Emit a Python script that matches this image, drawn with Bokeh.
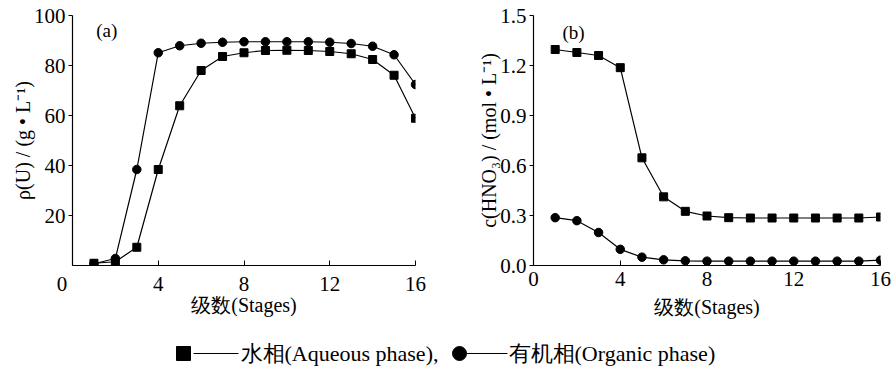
from bokeh.plotting import figure
from bokeh.layouts import column, row
from bokeh.models import FixedTicker, Label, Range1d
from bokeh.embed import file_html
from bokeh.resources import INLINE

# ---- data ----
stages = list(range(1, 17))
u_aqueous = [0.9, 1.5, 7.3, 38.4, 63.9, 78.0, 83.6, 85.1, 86.0, 86.1, 86.0, 85.6, 84.7, 82.4, 76.1, 58.9]
u_organic = [0.7, 2.8, 38.4, 85.1, 87.9, 88.9, 89.3, 89.5, 89.5, 89.5, 89.5, 89.3, 88.8, 87.7, 84.3, 72.4]
hno3_aqueous = [1.296, 1.278, 1.260, 1.187, 0.646, 0.412, 0.325, 0.297, 0.287, 0.285, 0.285, 0.285, 0.285, 0.285, 0.285, 0.291]
hno3_organic = [0.287, 0.269, 0.198, 0.097, 0.050, 0.034, 0.028, 0.026, 0.026, 0.026, 0.026, 0.026, 0.026, 0.026, 0.026, 0.032]
x_ticks = [0, 4, 8, 12, 16]
u_ticks = [20, 40, 60, 80, 100]
hno3_ticks = [0.0, 0.3, 0.6, 0.9, 1.2, 1.5]
hno3_tick_labels = {0.0: "0.0", 0.3: "0.3", 0.6: "0.6", 0.9: "0.9", 1.2: "1.2", 1.5: "1.5"}
# panel (a): the shared origin "0" sits left of the corner
stage_tick_labels_a = {0: "0\u00a0\u00a0\u00a0\u00a0"}
legend_labels = ["水相(Aqueous phase),", "有机相(Organic phase)"]

SERIF = "Liberation Serif"
TICK_SIZE = "21px"
LABEL_SIZE = "20px"


def make_panel(border_left, frame_w, border_right, ymax, yticks, ylabel, tag, tag_xy, aq, org,
               xlabel_standoff, yoverrides=None, xoverrides=None):
    p = figure(frame_width=frame_w, frame_height=250, x_range=Range1d(0, 16), y_range=Range1d(0, ymax),
               output_backend="svg", toolbar_location=None,
               min_border_left=border_left, min_border_right=border_right,
               min_border_top=15, min_border_bottom=60)
    p.outline_line_color = None
    p.grid.visible = False

    p.xaxis.ticker = FixedTicker(ticks=x_ticks)
    p.yaxis.ticker = FixedTicker(ticks=yticks)
    if yoverrides:
        p.yaxis.major_label_overrides = yoverrides
    if xoverrides:
        p.xaxis.major_label_overrides = xoverrides
    for ax in (p.xaxis[0], p.yaxis[0]):
        ax.axis_line_color = "black"
        ax.axis_line_width = 1.2
        ax.major_tick_line_color = "black"
        ax.minor_tick_line_color = None
        ax.major_label_text_font = SERIF
        ax.major_label_text_font_size = TICK_SIZE
        ax.major_label_text_color = "black"
        ax.axis_label_text_font = SERIF
        ax.axis_label_text_font_size = LABEL_SIZE
        ax.axis_label_text_font_style = "normal"
        ax.axis_label_text_color = "black"
    p.xaxis.major_tick_in = 5
    p.xaxis.major_tick_out = 0
    p.xaxis.major_label_standoff = 6
    p.yaxis.major_tick_in = 0
    p.yaxis.major_tick_out = 4
    p.yaxis.major_label_standoff = 3
    p.xaxis.axis_label = "级数(Stages)"
    p.xaxis.axis_label_standoff = xlabel_standoff
    p.yaxis.axis_label = ylabel
    p.yaxis.axis_label_standoff = -3

    p.line(stages, aq, line_color="black", line_width=1.2)
    p.line(stages, org, line_color="black", line_width=1.2)
    p.scatter(stages, aq, marker="square", size=8, color="black")
    p.scatter(stages, org, marker="circle", size=8.5, color="black")

    p.add_layout(Label(x=tag_xy[0], y=tag_xy[1], text=tag, text_font=SERIF,
                       text_font_size="19px", text_align="center", text_baseline="middle",
                       text_color="black"))
    return p


p1 = make_panel(72, 343, 25, 100, u_ticks, "ρ(U) / (g • L⁻¹)", "(a)", (1.6, 94),
                u_aqueous, u_organic, -5, xoverrides=stage_tick_labels_a)
p2 = make_panel(93, 347, 13, 1.5, hno3_ticks, "c(HNO₃) / (mol • L⁻¹)", "(b)", (1.85, 1.40),
                hno3_aqueous, hno3_organic, 7, yoverrides=hno3_tick_labels)

leg = figure(width=893, height=45, x_range=Range1d(0, 893), y_range=Range1d(0, 45),
             output_backend="svg", toolbar_location=None, min_border=0)
leg.axis.visible = False
leg.grid.visible = False
leg.outline_line_color = None
# legend keys: square, dash, label ; circle, dash, label
leg.scatter([183], [17], marker="square", size=14, color="black")
leg.line([193, 238], [17, 17], line_color="black", line_width=1)
leg.scatter([459], [17], marker="circle", size=14, color="black")
leg.line([466, 507], [17, 17], line_color="black", line_width=1)
leg.add_layout(Label(x=240, y=17, text=legend_labels[0], text_font=SERIF, text_font_size="22px",
                     text_align="left", text_baseline="middle", text_color="black"))
leg.add_layout(Label(x=508, y=17, text=legend_labels[1], text_font=SERIF, text_font_size="22px",
                     text_align="left", text_baseline="middle", text_color="black"))

layout = column(row(p1, p2), leg)
open("out.html", "w").write(file_html(layout, INLINE))
